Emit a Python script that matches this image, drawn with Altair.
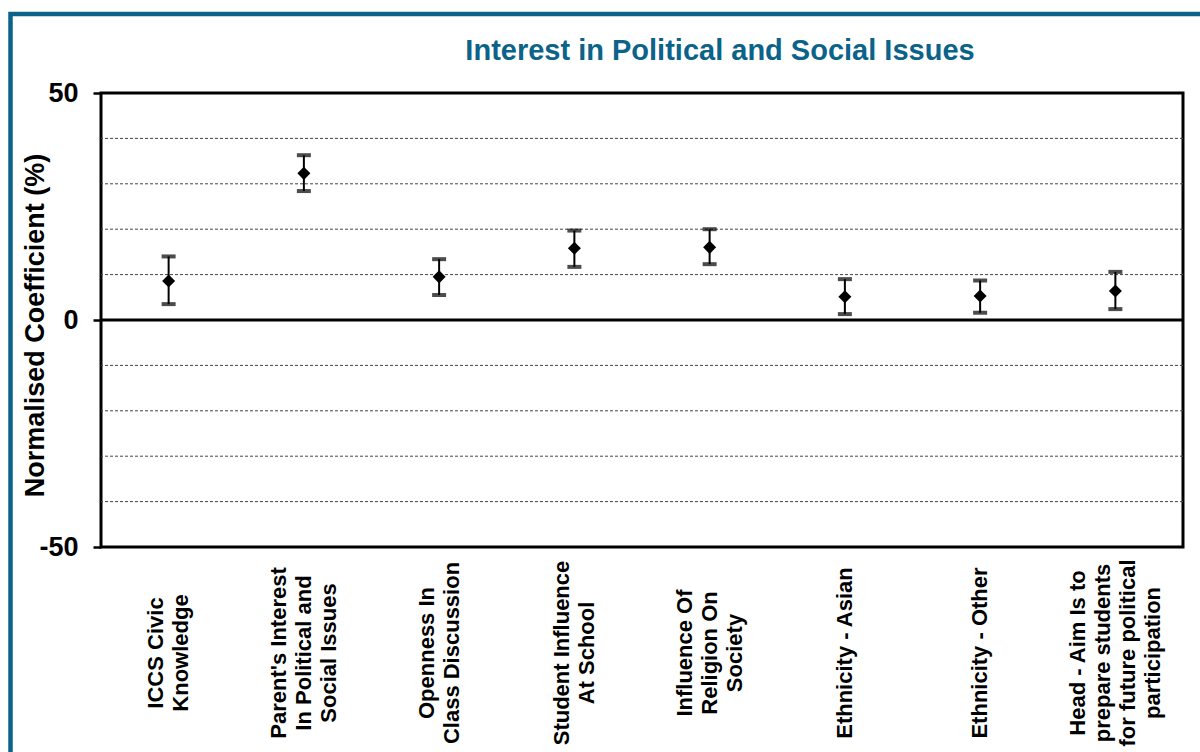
import altair as alt
import pandas as pd

categories = [
    "ICCS Civic|Knowledge",
    "Parent's Interest|In Political and|Social Issues",
    "Openness In|Class Discussion",
    "Student Influence|At School",
    "Influence Of|Religion On|Society",
    "Ethnicity - Asian",
    "Ethnicity - Other",
    "Head - Aim Is to|prepare students|for future political|participation",
]
estimate = [8.6, 32.3, 9.5, 15.8, 16.0, 5.1, 5.3, 6.4]
upper = [14.0, 36.3, 13.4, 19.7, 20.0, 9.0, 8.7, 10.6]
lower = [3.5, 28.4, 5.5, 11.7, 12.3, 1.3, 1.6, 2.4]
grid_values = [-40, -30, -20, -10, 10, 20, 30, 40]
y_tick_values = [-50, 0, 50]
chart_title = "Interest in Political and Social Issues"
y_title = "Normalised Coefficient (%)"

TEAL = "#0b6389"
FONT = "Liberation Sans"
LINE_H = 25
PLOT_W = 1082
HALF_BAND = PLOT_W / len(categories) / 2

df = pd.DataFrame({"cat": categories, "est": estimate, "hi": upper, "lo": lower})

# one row per label line, lines centred on the category
label_rows = []
for c in categories:
    parts = c.split("|")
    n = len(parts)
    for i, p in enumerate(parts):
        label_rows.append({"cat": c, "line": p, "idx": i, "n": n})
labels_df = pd.DataFrame(label_rows)

x_scale = alt.Scale(domain=categories, paddingInner=0, paddingOuter=0)
y_scale = alt.Scale(domain=[-50, 50], nice=False)

x_enc = alt.X(
    "cat:N",
    sort=categories,
    scale=x_scale,
    axis=alt.Axis(title=None, labels=False, ticks=False, domain=False),
)

base = alt.Chart(df)

errbar = base.mark_rule(color="black", strokeWidth=2).encode(
    x=x_enc,
    y=alt.Y(
        "lo:Q",
        scale=y_scale,
        axis=alt.Axis(
            values=y_tick_values,
            labelExpr="'' + datum.value",
            title=y_title,
            titleFont=FONT,
            titleFontSize=27,
            titleFontWeight="bold",
            titleColor="black",
            titleX=-52,
            titleY=232,
            labelFont=FONT,
            labelFontSize=27,
            labelFontWeight="bold",
            labelColor="black",
            labelPadding=15,
            tickSize=8,
            tickWidth=2.5,
            tickColor="black",
            grid=False,
            domain=False,
        ),
    ),
    y2="hi:Q",
)

cap_lo = base.mark_tick(color="black", thickness=4, size=14).encode(
    x=alt.X("cat:N", sort=categories, scale=x_scale), y=alt.Y("lo:Q", scale=y_scale)
)
cap_hi = base.mark_tick(color="black", thickness=4, size=14).encode(
    x=alt.X("cat:N", sort=categories, scale=x_scale), y=alt.Y("hi:Q", scale=y_scale)
)
points = base.mark_point(shape="diamond", filled=True, color="black", size=170, opacity=1).encode(
    x=alt.X("cat:N", sort=categories, scale=x_scale), y=alt.Y("est:Q", scale=y_scale)
)

grid = (
    alt.Chart(pd.DataFrame({"g": grid_values}))
    .mark_rule(color="#444444", strokeWidth=1, strokeDash=[3, 2])
    .encode(y=alt.Y("g:Q", scale=y_scale))
)
zero = (
    alt.Chart(pd.DataFrame({"z": [0]}))
    .mark_rule(color="black", strokeWidth=3)
    .encode(y=alt.Y("z:Q", scale=y_scale))
)

x_labels = (
    alt.Chart(labels_df)
    .transform_calculate(off=f"(datum.idx - (datum.n - 1) / 2) * {LINE_H}")
    .mark_text(
        angle=270,
        align="center",
        baseline="middle",
        font=FONT,
        fontSize=22,
        fontWeight="bold",
        color="black",
    )
    .encode(
        x=alt.X("cat:N", sort=categories, scale=x_scale),
        xOffset=alt.XOffset(
            "off:Q",
            scale=alt.Scale(domain=[-100, 100], range=[-100 + HALF_BAND, 100 + HALF_BAND]),
        ),
        y=alt.value(560),
        text="line:N",
    )
)

title_text = (
    alt.Chart(pd.DataFrame({"t": [chart_title]}))
    .mark_text(
        align="center",
        baseline="alphabetic",
        font=FONT,
        fontSize=29,
        fontWeight="bold",
        color=TEAL,
    )
    .encode(x=alt.value(619), y=alt.value(-33), text="t:N")
)

frame = (
    alt.Chart(pd.DataFrame({"f": [0]}))
    .mark_rect(filled=False, stroke=TEAL, strokeWidth=4.5)
    .encode(
        x=alt.value(-90.5),
        x2=alt.value(1200),
        y=alt.value(-79),
        y2=alt.value(800),
    )
)

chart = (
    alt.layer(frame, grid, zero, errbar, cap_lo, cap_hi, points, x_labels, title_text)
    .properties(
        width=PLOT_W,
        height=454,
        padding={"left": 101, "top": 93, "right": 17, "bottom": 205},
        autosize=alt.AutoSizeParams(type="none"),
        background="white",
    )
    .configure_view(stroke="black", strokeWidth=3)
)

chart.save("out.html", embed_options={"renderer": "svg", "actions": False})
